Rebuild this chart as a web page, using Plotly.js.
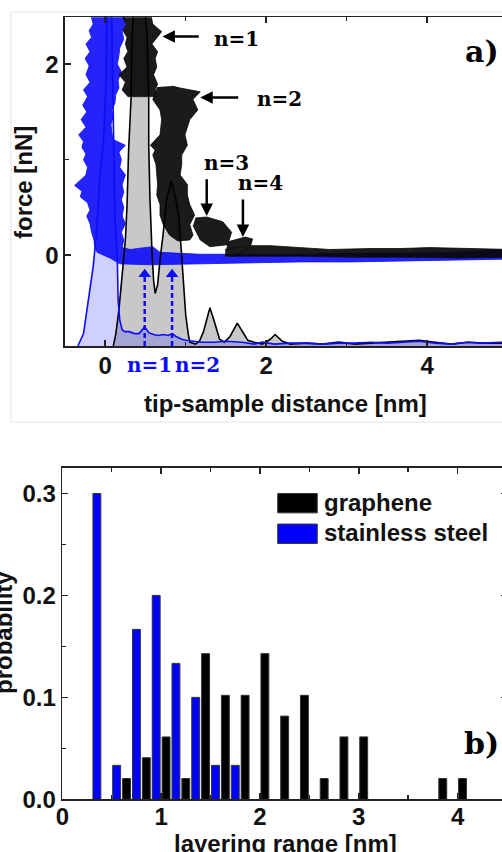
<!DOCTYPE html>
<html><head><meta charset="utf-8">
<script src="https://cdn.plot.ly/plotly-3.0.1.min.js"></script>
<style>html,body{margin:0;padding:0;overflow:hidden;background:#fff}#chart{width:520px;height:852px}</style>
</head><body><div id="chart"></div>
<script>
// ---------- Panel a: force curves (noisy envelopes) ----------
const steelBandX = [-0.19,-0.15,-0.20,-0.17,-0.24,-0.19,-0.25,-0.20,-0.24,-0.19,-0.27,-0.22,-0.28,-0.23,-0.30,-0.24,-0.33,-0.27,-0.29,-0.24,-0.27,-0.22,-0.24,-0.31,-0.38,-0.29,-0.31,-0.22,-0.19,-0.23,-0.19,-0.17,-0.14,-0.13,-0.10,0.06,0.18,
  0.56,1.18,1.80,2.42,3.04,3.66,4.28,5.05,
  5.05,4.28,3.66,3.04,2.42,1.80,1.18,0.68,0.59,0.31,0.21,
  0.23,0.20,0.25,0.21,0.23,0.20,0.23,0.21,0.25,0.18,0.20,0.17,0.25,0.10,0.08,0.07,0.10,0.08,0.12,0.13,0.17,0.16,0.20,0.15,0.17,0.18,0.23,0.21,0.25,0.23];
const steelBandY = [2.55,2.42,2.35,2.28,2.21,2.13,2.06,1.98,1.89,1.81,1.73,1.66,1.57,1.50,1.42,1.34,1.26,1.19,1.13,1.06,1.00,0.92,0.84,0.79,0.73,0.67,0.61,0.55,0.47,0.41,0.33,0.24,0.16,0.08,0.03,-0.03,-0.09,
  -0.10,-0.09,-0.08,-0.07,-0.07,-0.06,-0.05,-0.04,
  0.06,0.03,0.02,0.02,0.01,0.01,0.01,0.03,0.09,0.06,0.08,
  0.16,0.24,0.33,0.41,0.50,0.58,0.66,0.74,0.84,0.92,1.00,1.08,1.15,1.21,1.29,1.37,1.45,1.52,1.59,1.68,1.75,1.83,1.92,2.00,2.09,2.17,2.26,2.34,2.42,2.55];

const grapheneBandX = [
  0.18,0.26,0.22,0.27,0.25,0.28,0.23,0.27,0.17,0.25,0.21,0.28,0.64,0.62,0.65,0.60,0.64,0.62,0.65,0.58,0.70,0.67,0.59,0.56, null,
  0.65,0.59,0.68,0.70,0.68,0.56,0.62,0.59,0.63,0.64,0.65,0.64,0.68,0.68,0.72,0.80,0.90,1.05,1.09,1.05,1.11,1.05,1.02,1.02,0.93,0.95,0.95,1.02,0.99,1.05,1.15,1.09,1.18,0.93,0.83, null,
  1.12,1.26,1.46,1.57,1.52,1.30,1.18,1.09, null,
  1.52,1.74,1.83,1.80,1.61,1.49, null,
  1.49,1.80,2.05,2.42,2.79,3.29,3.66,4.03,4.40,5.05,5.05,4.40,3.66,3.04,2.42,1.92,1.49];
const grapheneBandY = [
  2.55,2.42,2.35,2.28,2.21,2.13,2.06,1.97,1.89,1.81,1.73,1.66,1.66,1.73,1.79,1.89,1.97,2.06,2.13,2.21,2.34,2.36,2.42,2.55, null,
  1.76,1.63,1.52,1.42,1.26,1.15,1.10,1.05,0.95,0.84,0.74,0.63,0.53,0.42,0.32,0.21,0.15,0.16,0.21,0.32,0.42,0.53,0.63,0.74,0.84,0.95,1.05,1.15,1.26,1.42,1.52,1.63,1.71,1.75,1.77, null,
  0.39,0.40,0.35,0.24,0.11,0.09,0.16,0.31, null,
  0.14,0.19,0.17,0.08,-0.01,0.00, null,
  0.06,0.10,0.10,0.08,0.06,0.07,0.07,0.08,0.07,0.06,-0.02,-0.03,-0.02,-0.02,-0.01,-0.01,-0.01];

// ---------- Panel a: tip-position distributions ----------
const grapheneDistX = [0.10,0.13,0.17,0.22,0.25,0.27,0.29,0.32,0.33,0.38,0.45,0.52,0.54,0.54,0.555,0.58,0.60,0.62,0.65,0.68,0.72,0.76,0.82,0.87,0.91,0.94,0.97,1.00,1.03,1.05,1.12,1.17,1.22,1.30,1.35,1.42,1.48,1.55,1.64,1.70,1.77,1.85,1.95,2.05,2.11,2.20,2.30,2.50,2.70,2.90,3.10,3.30,3.50,3.70,3.90,4.10,4.30,4.50,4.70,4.90,5.05,5.05];
const grapheneDistY = [-0.95,-0.83,-0.57,-0.15,0.16,0.51,1.10,1.63,2.25,2.9,3.0,2.3,1.66,1.15,0.60,0.05,-0.26,-0.40,-0.31,-0.05,0.23,0.58,0.78,0.62,0.42,0.10,-0.29,-0.63,-0.82,-0.91,-0.93,-0.90,-0.80,-0.55,-0.68,-0.88,-0.91,-0.85,-0.71,-0.80,-0.89,-0.91,-0.93,-0.88,-0.83,-0.90,-0.93,-0.92,-0.93,-0.91,-0.93,-0.92,-0.91,-0.90,-0.89,-0.91,-0.93,-0.91,-0.92,-0.92,-0.92,-0.97];
const steelDistX = [-0.34,-0.27,-0.21,-0.15,-0.11,-0.10,-0.07,-0.02,0.01,0.02,0.05,0.08,0.10,0.12,0.15,0.16,0.18,0.21,0.24,0.30,0.36,0.42,0.49,0.54,0.60,0.66,0.72,0.78,0.83,0.88,0.95,1.00,1.10,1.20,1.35,1.50,1.70,1.85,1.95,2.10,2.30,2.50,2.70,2.90,3.10,3.30,3.50,3.70,3.90,4.10,4.30,4.50,4.70,4.90,5.05,5.05];
const steelDistY = [-0.95,-0.82,-0.47,-0.12,0.23,0.40,0.79,1.21,1.84,2.5,2.9,2.5,1.21,0.40,-0.05,-0.47,-0.68,-0.78,-0.80,-0.80,-0.82,-0.82,-0.75,-0.81,-0.83,-0.84,-0.83,-0.84,-0.82,-0.85,-0.88,-0.89,-0.90,-0.91,-0.91,-0.90,-0.91,-0.93,-0.91,-0.93,-0.92,-0.92,-0.93,-0.92,-0.92,-0.91,-0.92,-0.91,-0.90,-0.92,-0.93,-0.91,-0.92,-0.91,-0.91,-0.97];

const steelLayerX = [0.49, 0.83];         // blue dashed arrows n=1, n=2
const steelLayerLabels = ['n=1', 'n=2'];
const grapheneStepLabels = ['n=1','n=2','n=3','n=4'];

// ---------- Panel b: histogram of layering range ----------
const grapheneRangeX = [0.65,0.85,1.05,1.25,1.45,1.65,1.85,2.05,2.25,2.45,2.65,2.85,3.05,3.85,4.05];
const grapheneProb   = [0.0204,0.0408,0.0612,0.0204,0.1429,0.1020,0.1020,0.1429,0.0816,0.1020,0.0204,0.0612,0.0612,0.0204,0.0204];
const steelRangeX = [0.35,0.55,0.75,0.95,1.15,1.35,1.55,1.75];
const steelProb   = [0.3000,0.0333,0.1667,0.2000,0.1333,0.1000,0.0333,0.0333];
const seriesNames = ['graphene','stainless steel'];

// ---------- layout helpers ----------
const W = 520, H = 852;
const px = p => p / W, py = p => 1 - p / H;
const SANS = 'Liberation Sans, Arial, sans-serif';
const SERIF = 'DejaVu Serif, serif';
const BLUE = 'rgb(12,12,250)';
const axisBase = {
  showline: true, linecolor: '#222', linewidth: 1.6, mirror: 'ticks',
  ticks: 'inside', ticklen: 6, tickwidth: 1.6, tickcolor: '#222',
  showgrid: false, zeroline: false, fixedrange: true,
  tickfont: {family: SANS, size: 24, weight: 700, color: '#111'}
};

const traces = [
  {x: grapheneDistX, y: grapheneDistY, xaxis: 'x', yaxis: 'y', mode: 'lines', fill: 'toself',
   fillcolor: 'rgb(200,200,200)', line: {width: 0, color: 'rgba(0,0,0,0)'}, hoverinfo: 'skip'},
  {x: steelDistX, y: steelDistY, xaxis: 'x', yaxis: 'y', mode: 'lines', fill: 'toself',
   fillcolor: 'rgba(40,40,255,0.22)', line: {width: 0, color: 'rgba(0,0,0,0)'}, hoverinfo: 'skip'},
  {x: steelBandX, y: steelBandY, xaxis: 'x', yaxis: 'y', mode: 'lines', fill: 'toself',
   fillcolor: 'rgba(12,12,250,0.9)', line: {width: 0.8, color: BLUE}, hoverinfo: 'skip'},
  {x: grapheneBandX, y: grapheneBandY, xaxis: 'x', yaxis: 'y', mode: 'lines', fill: 'toself',
   fillcolor: 'rgba(8,8,8,0.92)', line: {width: 0.8, color: '#0a0a0a'}, connectgaps: false, hoverinfo: 'skip'},
  {x: grapheneDistX, y: grapheneDistY, xaxis: 'x', yaxis: 'y', mode: 'lines',
   line: {width: 1.6, color: '#000'}, hoverinfo: 'skip'},
  {x: steelDistX, y: steelDistY, xaxis: 'x', yaxis: 'y', mode: 'lines',
   line: {width: 1.6, color: BLUE}, hoverinfo: 'skip'}
];
steelLayerX.forEach(v => {
  traces.push({x: [v, v], y: [-0.95, -0.22], xaxis: 'x', yaxis: 'y', mode: 'lines',
    line: {color: BLUE, width: 2.5, dash: '5px,3px'}, hoverinfo: 'skip'});
  traces.push({x: [v], y: [-0.2], xaxis: 'x', yaxis: 'y', mode: 'markers',
    marker: {symbol: 'triangle-up', size: 11, color: BLUE}, hoverinfo: 'skip'});
});
traces.push({type: 'bar', x: grapheneRangeX, y: grapheneProb, name: seriesNames[0], xaxis: 'x2', yaxis: 'y2',
  width: 0.08, marker: {color: '#000', line: {color: '#333', width: 1}}});
traces.push({type: 'bar', x: steelRangeX, y: steelProb, name: seriesNames[1], xaxis: 'x2', yaxis: 'y2',
  width: 0.08, marker: {color: 'rgb(0,0,255)', line: {color: '#333', width: 1}}});

const ann = [];
// black step arrows
[[0.71, 2.29, 1.18, 2.29], [1.18, 1.65, 1.67, 1.65], [1.26, 0.41, 1.26, 0.81], [1.71, 0.19, 1.71, 0.60]].forEach(a => {
  ann.push({xref: 'x', yref: 'y', axref: 'x', ayref: 'y', x: a[0], y: a[1], ax: a[2], ay: a[3], text: '',
    showarrow: true, arrowhead: 2, arrowsize: 1, arrowwidth: 2.5, arrowcolor: '#000'});
});
const stepPos = [[1.33, 2.26], [1.86, 1.64], [1.20, 0.97], [1.62, 0.76]];
grapheneStepLabels.forEach((t, i) => ann.push({xref: 'x', yref: 'y', x: stepPos[i][0], y: stepPos[i][1], xanchor: 'left', yanchor: 'middle',
  text: t, showarrow: false, font: {family: SERIF, size: 20, weight: 700, color: '#000'}}));
[0.25, 0.84].forEach((v, i) => ann.push({xref: 'x', yref: 'paper', x: v, y: py(365), xanchor: 'left', yanchor: 'middle',
  text: steelLayerLabels[i], showarrow: false, font: {family: SERIF, size: 20, weight: 700, color: BLUE}}));
// panel labels
const C = {xanchor: 'center', yanchor: 'middle', showarrow: false, xref: 'paper', yref: 'paper'};
ann.push(Object.assign({}, C, {x: px(482), y: py(52), text: 'a)', font: {family: SERIF, size: 30, weight: 700, color: '#000'}}));
ann.push(Object.assign({}, C, {x: px(481), y: py(743), text: 'b)', font: {family: SERIF, size: 30, weight: 700, color: '#000'}}));
// axis titles
const tf = {family: SANS, size: 24, weight: 700, color: '#111'};
ann.push(Object.assign({}, C, {x: px(285), y: py(403), text: 'tip-sample distance [nm]', font: tf}));
ann.push(Object.assign({}, C, {x: px(23), y: py(183), text: 'force [nN]', textangle: -90, font: tf}));
ann.push(Object.assign({}, C, {x: px(3), y: py(633), text: 'probability', textangle: -90, font: tf}));
ann.push(Object.assign({}, C, {x: px(285), y: py(843), text: 'layering range [nm]', font: tf}));
// legend text
ann.push({xref: 'x2', yref: 'y2', x: 2.63, y: 0.291, xanchor: 'left', yanchor: 'middle', text: seriesNames[0], showarrow: false, font: tf});
ann.push({xref: 'x2', yref: 'y2', x: 2.63, y: 0.262, xanchor: 'left', yanchor: 'middle', text: seriesNames[1], showarrow: false, font: tf});

const shapes = [
  {type: 'rect', xref: 'paper', yref: 'paper', x0: px(11), x1: px(640), y0: py(422), y1: py(12), line: {color: '#e4e4e4', width: 1}, layer: 'below'},
  {type: 'rect', xref: 'x2', yref: 'y2', x0: 2.18, x1: 2.58, y0: 0.281, y1: 0.300, fillcolor: '#000', line: {color: '#333', width: 1}},
  {type: 'rect', xref: 'x2', yref: 'y2', x0: 2.18, x1: 2.58, y0: 0.251, y1: 0.270, fillcolor: 'rgb(0,0,255)', line: {color: '#333', width: 1}}
];

const layout = {
  width: W, height: H, margin: {l: 0, r: 0, t: 0, b: 0},
  paper_bgcolor: '#fff', plot_bgcolor: 'rgba(0,0,0,0)', showlegend: false, barmode: 'overlay',
  xaxis: Object.assign({}, axisBase, {domain: [px(65), px(507.8)], range: [-0.5, 5], anchor: 'y', ticklabelstandoff: -2,
    dtick: 2, tick0: 0, minor: {dtick: 1, tick0: 0, ticks: 'inside', ticklen: 4, tickwidth: 1.4, tickcolor: '#222'}}),
  yaxis: Object.assign({}, axisBase, {domain: [py(346), py(17.3)], range: [-0.95, 2.49], anchor: 'x',
    dtick: 2, tick0: 0, minor: {dtick: 1, tick0: 0, ticks: 'inside', ticklen: 4, tickwidth: 1.4, tickcolor: '#222'}}),
  xaxis2: Object.assign({}, axisBase, {domain: [px(62.3), px(507)], range: [0, 4.5], anchor: 'y2', ticklabelstandoff: -5,
    dtick: 1, tick0: 0, minor: {dtick: 0.5, tick0: 0, ticks: 'inside', ticklen: 4, tickwidth: 1.4, tickcolor: '#222'}}),
  yaxis2: Object.assign({}, axisBase, {domain: [py(799.3), py(468)], range: [0, 0.325], anchor: 'x2',
    dtick: 0.1, tick0: 0, tickformat: '.1f', minor: {dtick: 0.05, tick0: 0, ticks: 'inside', ticklen: 4, tickwidth: 1.4, tickcolor: '#222'}}),
  annotations: ann, shapes: shapes
};
Plotly.newPlot('chart', traces, layout, {staticPlot: true, displayModeBar: false});
</script></body></html>
